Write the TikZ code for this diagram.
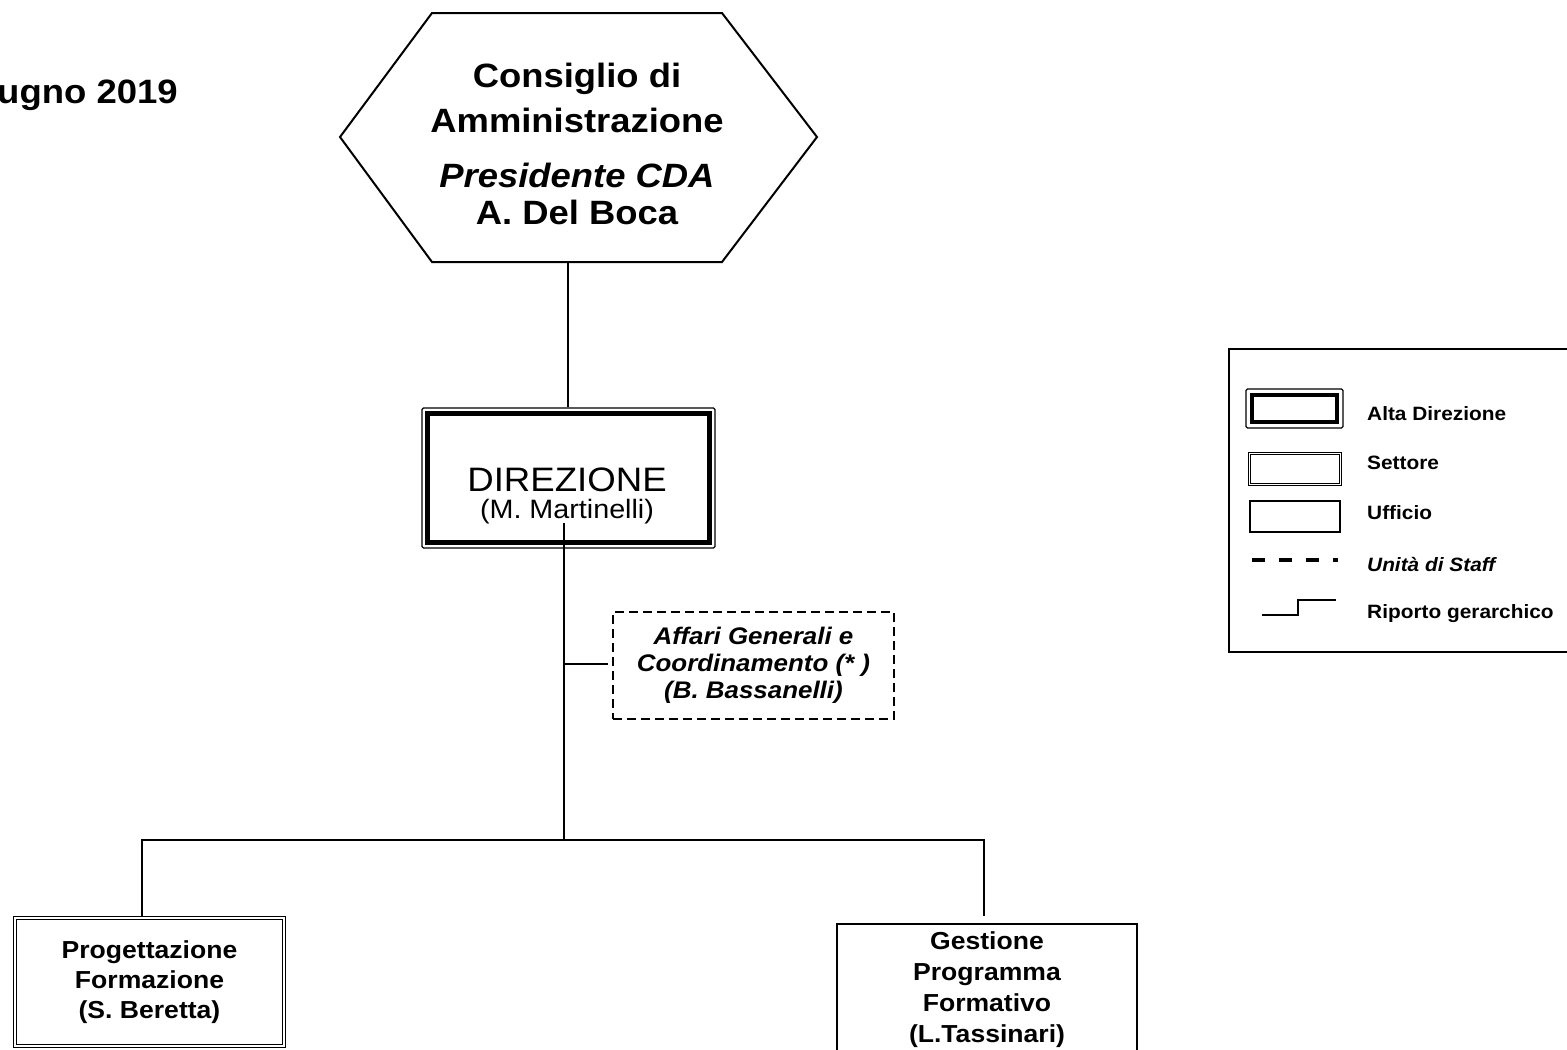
\documentclass[tikz,border=0pt]{standalone}
\usepackage{fontspec}
\setmainfont{Liberation Sans}[FakeStretch=1.08]
\tikzset{
  conn/.style={line width=2pt},
  alta/.style={draw, line width=1.3pt, rounded corners=1.5pt, inner sep=0pt},
  settore/.style={draw, line width=1.1pt, double=white, double distance=2pt, inner sep=0pt},
  ufficio/.style={draw, line width=1.8pt, inner sep=0pt},
  staffbox/.style={draw, line width=2pt, dash pattern=on 9pt off 5pt, inner sep=0pt},
  lbl/.style={font=\fontsize{19.3}{22}\selectfont\bfseries, anchor=base west, inner sep=0pt},
}
\begin{document}
\begin{tikzpicture}[x=1pt,y=-1pt]
\path[use as bounding box, fill=white] (0,0) rectangle (1567,1050);

% date
\node[anchor=base west, inner sep=0pt, font=\fontsize{33.8}{38}\selectfont\bfseries] (date) at (-3,103) {ugno 2019};

% Consiglio di Amministrazione (hexagon)
\draw[line width=2pt, line join=miter] (432,13) -- (722,13) -- (817,137) -- (722,262) -- (432,262) -- (340,137) -- cycle;
\node[align=center, inner sep=0pt, font=\fontsize{33.7}{41}\selectfont\bfseries] (cda) at (577,143.5)
  {Consiglio di\\[4pt]Amministrazione\\[14pt]{\itshape Presidente CDA}\\[-4pt]A. Del Boca};
\coordinate (hexbot) at (568,262);

% Direzione
\node[alta, minimum width=293pt, minimum height=140pt] (dir) at (568.5,478) {};
\draw[line width=5pt] ([shift={(6.5,6.5)}]dir.north west) rectangle ([shift={(-6.5,-6.5)}]dir.south east);
\node[align=center, inner sep=0pt, font=\fontsize{33.9}{27}\selectfont] (dirtext) at (567,496)
  {DIREZIONE\\{\fontsize{26.6}{27}\selectfont (M. Martinelli)}};

\draw[conn] (hexbot) -- (hexbot |- dir.north);

% staff unit
\node[staffbox, minimum width=281pt, minimum height=107pt, align=center,
      font=\fontsize{24}{27}\selectfont\bfseries\itshape] (staff) at (753.5,665.5)
  {Affari Generali e\\Coordinamento (* )\\(B. Bassanelli)};

% trunk
\coordinate (trunktop) at (564,523);
\coordinate (tap) at (564,664);
\coordinate (thick) at (564,763);
\coordinate (bus) at (564,840);
\draw[conn] (trunktop) -- (bus);
\draw[line width=2.6pt] (thick) -- (bus);
\draw[conn, shorten >=4pt] (tap) -- (tap -| staff.west);

% settori / uffici
\node[settore, minimum width=269pt, minimum height=128pt, align=center,
      font=\fontsize{24.6}{30}\selectfont\bfseries] (prog) at (149.5,982)
  {Progettazione\\Formazione\\(S. Beretta)};
\node[ufficio, minimum width=300pt, minimum height=132pt, align=center,
      font=\fontsize{24.6}{31}\selectfont\bfseries] (gest) at (987,990)
  {Gestione\\Programma\\Formativo\\(L.Tassinari)};

\coordinate (progtop) at ([xshift=-7.5pt]prog.north);
\coordinate (gesttop) at ([xshift=-3pt,yshift=7pt]gest.north);
\draw[conn] (progtop) -- (progtop |- bus) -- (gesttop |- bus) -- (gesttop);

% legend
\node[draw, line width=1.8pt, minimum width=351pt, minimum height=303pt, inner sep=0pt] (legend) at (1404.5,500.5) {};
\node[alta, minimum width=97pt, minimum height=39pt] (lalta) at (1294.5,408.5) {};
\draw[line width=4.5pt] ([shift={(6.5,6.5)}]lalta.north west) rectangle ([shift={(-6.5,-6.5)}]lalta.south east);
\node[settore, line width=0.9pt, double distance=1.6pt, minimum width=91pt, minimum height=31pt] (lsett) at (1295,469) {};
\node[ufficio, line width=1.5pt, minimum width=90pt, minimum height=31pt] (luff) at (1295,516.5) {};
\coordinate (sa) at (1252,560);
\coordinate (sb) at (1338,560);
\draw[line width=3.5pt, dash pattern=on 13pt off 14pt] (sa) -- (sb);
\coordinate (ra) at (1262,615);
\coordinate (rb) at (1336,600);
\draw[conn] (ra) -- ++(36,0) |- (rb);

\node[lbl] (l1) at (1367,420) {Alta Direzione};
\node[lbl] (l2) at (1367,469) {Settore};
\node[lbl] (l3) at (1367,519) {Ufficio};
\node[lbl, font=\fontsize{19.3}{22}\selectfont\bfseries\itshape] (l4) at (1367,571) {Unità di Staff};
\node[lbl] (l5) at (1367,618) {Riporto gerarchico};
\end{tikzpicture}
\end{document}
